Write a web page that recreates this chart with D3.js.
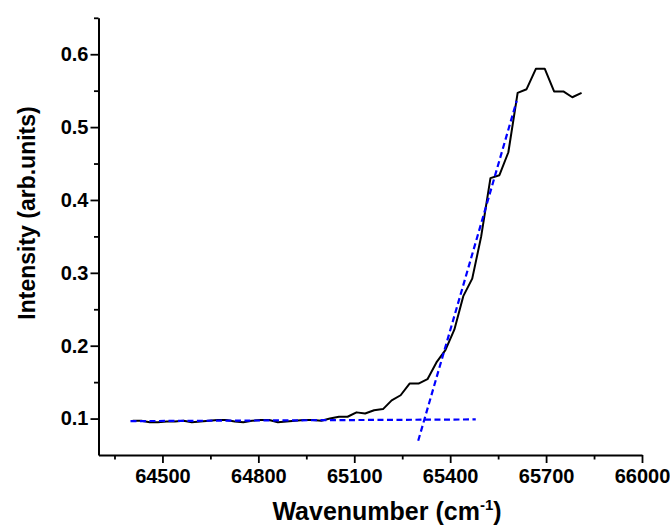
<!DOCTYPE html>
<html>
<head>
<meta charset="utf-8">
<script src="https://cdn.jsdelivr.net/npm/d3@7"></script>
<style>
  body { margin: 0; background: #fff; }
  svg text { font-family: "Liberation Sans", Arial, sans-serif; font-weight: bold; fill: #000; }
</style>
</head>
<body>
<svg id="chart" width="670" height="530"></svg>
<script>
// measured spectrum (wavenumber, intensity)
var wavenumber = [
  64407, 64434, 64460, 64486, 64513, 64539, 64566, 64592, 64619, 64646,
  64672, 64699, 64726, 64753, 64780, 64807, 64834, 64861, 64888, 64915,
  64942, 64970, 64997, 65024, 65052, 65079, 65107, 65134, 65162, 65190,
  65217, 65245, 65273, 65301, 65329, 65357, 65385, 65413, 65441, 65469,
  65497, 65526, 65554, 65582, 65611, 65639, 65668, 65696, 65725, 65754,
  65782, 65811
];
var intensity = [
  0.097, 0.097, 0.095, 0.095, 0.096, 0.096, 0.097, 0.095, 0.096, 0.097,
  0.098, 0.098, 0.096, 0.095, 0.097, 0.098, 0.098, 0.095, 0.096, 0.097,
  0.098, 0.098, 0.097, 0.100, 0.1025, 0.1025, 0.1085, 0.107, 0.1115, 0.113,
  0.125, 0.132, 0.148, 0.148, 0.154, 0.177, 0.194, 0.222, 0.268, 0.292,
  0.35, 0.430, 0.434, 0.4655, 0.547, 0.552, 0.580, 0.580, 0.549, 0.549,
  0.541, 0.547
];

// linear fits drawn as dashed blue lines (two end points each)
var baselineFit = [[64400, 0.0965], [65480, 0.0988]];
var edgeFit = [[65300, 0.0696], [65608, 0.536]];

var xTicks = [64500, 64800, 65100, 65400, 65700, 66000];
var xMinorTicks = [64350, 64650, 64950, 65250, 65550, 65850];
var yTicks = [0.1, 0.2, 0.3, 0.4, 0.5, 0.6];
var yMinorTicks = [0.15, 0.25, 0.35, 0.45, 0.55, 0.65];

var svg = d3.select("#chart");

var x = d3.scaleLinear().domain([64300, 66000]).range([98.5, 642]);
var y = d3.scaleLinear().domain([0.05, 0.65]).range([455, 17.8]);

// minor ticks first, major axes on top
svg.append("g")
    .attr("transform", "translate(0," + y(0.05) + ")")
    .call(d3.axisBottom(x).tickValues(xMinorTicks).tickSize(4.5).tickFormat(""))
    .call(function(g) { g.select(".domain").remove(); })
    .selectAll("line").attr("stroke", "#000").attr("stroke-width", 1.8);

svg.append("g")
    .attr("transform", "translate(" + x(64300) + ",0)")
    .call(d3.axisLeft(y).tickValues(yMinorTicks).tickSize(4.5).tickFormat(""))
    .call(function(g) { g.select(".domain").remove(); })
    .selectAll("line").attr("stroke", "#000").attr("stroke-width", 1.8);

var xAxis = svg.append("g")
    .attr("transform", "translate(0," + y(0.05) + ")")
    .call(d3.axisBottom(x).tickValues(xTicks).tickSize(8).tickSizeOuter(0).tickPadding(6)
      .tickFormat(d3.format("d")));

var yAxis = svg.append("g")
    .attr("transform", "translate(" + x(64300) + ",0)")
    .call(d3.axisLeft(y).tickValues(yTicks).tickSize(8).tickSizeOuter(0).tickPadding(2)
      .tickFormat(d3.format(".1f")));

[xAxis, yAxis].forEach(function(g) {
  g.select(".domain").attr("stroke", "#000").attr("stroke-width", 2);
  g.selectAll(".tick line").attr("stroke", "#000").attr("stroke-width", 1.8);
  g.selectAll(".tick text").style("font-size", "20px").attr("fill", "#000");
});

var line = d3.line()
    .x(function(d) { return x(d[0]); })
    .y(function(d) { return y(d[1]); });

var spectrum = wavenumber.map(function(w, i) { return [w, intensity[i]]; });

svg.append("path")
    .datum(spectrum)
    .attr("fill", "none")
    .attr("stroke", "#000")
    .attr("stroke-width", 2)
    .attr("stroke-linejoin", "round")
    .attr("d", line);

[baselineFit, edgeFit].forEach(function(seg) {
  svg.append("path")
      .datum(seg)
      .attr("fill", "none")
      .attr("stroke", "#0000ff")
      .attr("stroke-width", 2.2)
      .attr("stroke-dasharray", "6,3.5")
      .attr("d", line);
});

// axis titles
svg.append("text")
    .attr("x", 387)
    .attr("y", 520)
    .attr("text-anchor", "middle")
    .style("font-size", "25px")
    .html('Wavenumber (cm<tspan dy="-10" style="font-size:15px">-1</tspan><tspan dy="10">)</tspan>');

svg.append("text")
    .attr("transform", "translate(35,213) rotate(-90)")
    .attr("text-anchor", "middle")
    .style("font-size", "23px")
    .text("Intensity (arb.units)");
</script>
</body>
</html>
